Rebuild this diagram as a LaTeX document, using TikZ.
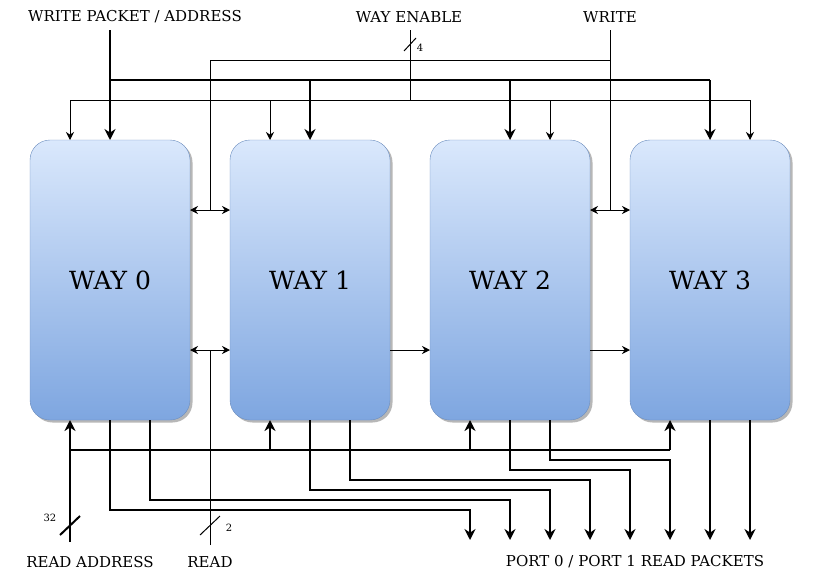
\documentclass[tikz,border=0pt]{standalone}
\usepackage{fontspec}
\setmainfont{DejaVu Serif}
\usetikzlibrary{arrows.meta,shadows,calc}
\definecolor{waytop}{HTML}{DAE8FC}
\definecolor{waybot}{HTML}{7EA6E0}
\definecolor{wayline}{HTML}{6C8EBF}
\tikzset{
  way/.style={draw=wayline, rounded corners=20pt, top color=waytop, bottom color=waybot,
    minimum width=160pt, minimum height=280pt, outer sep=0pt, inner sep=0pt,
    font=\fontsize{25}{30}\selectfont,
    drop shadow={shadow xshift=2.5pt, shadow yshift=-2.5pt, fill=black!40, opacity=0.7}},
  lbl/.style={font=\fontsize{15}{18}\selectfont, inner sep=0pt},
  tiny/.style={font=\fontsize{10}{12}\selectfont, inner sep=0pt},
  wire/.style={line width=1pt},
  bus/.style={line width=2pt},
  arr/.style={wire, -{Stealth[length=8pt,width=8pt]}},
  dbl/.style={wire, {Stealth[length=8pt,width=8pt]}-{Stealth[length=8pt,width=8pt]}},
  busarr/.style={bus, -{Stealth[length=11pt,width=11pt]}}
}
\begin{document}
\begin{tikzpicture}[x=1pt, y=-1pt]
\useasboundingbox (0,0) rectangle (821,576);

\node[way] (W0) at (110,280) {WAY 0};
\node[way] (W1) at (310,280) {WAY 1};
\node[way] (W2) at (510,280) {WAY 2};
\node[way] (W3) at (710,280) {WAY 3};

\node[lbl] (wpa) at (135,17) {WRITE PACKET / ADDRESS};
\node[lbl] (wen) at (409,17) {WAY ENABLE};
\node[lbl] (wr) at (610,17) {WRITE};
\node[lbl] (ra) at (90,562) {READ ADDRESS};
\node[lbl] (rd) at (210,562) {READ};
\node[lbl] (port) at (635,562) {PORT 0 / PORT 1 READ PACKETS};

\coordinate (hi) at (0,210);
\coordinate (lo) at (0,350);

% write packet / address
\coordinate (wpa0) at (110,30);
\coordinate (wpaL) at (110,80);
\coordinate (wpaR) at (710,80);
\draw[busarr] (wpa0) -- (W0.north);
\draw[bus] (wpaL) -- (wpaR);
\draw[busarr] (W1.north |- wpaL) -- (W1.north);
\draw[busarr] (W2.north |- wpaL) -- (W2.north);
\draw[busarr] (W3.north |- wpaL) -- (W3.north);

% way enable
\coordinate (en0) at (410,30);
\coordinate (enJ) at (410,100);
\coordinate (enL) at (70,100);
\coordinate (enR) at (750,100);
\draw[wire] (en0) -- (enJ);
\draw[wire] (enL) -- (enR);
\draw[wire] (404,51) -- (416,38);
\node[tiny] (n4) at (420,48) {4};
\draw[arr] (enL) -- (enL |- W0.north);
\draw[arr] ($(W1.north |- enL)+(-40,0)$) -- ($(W1.north)+(-40,0)$);
\draw[arr] ($(W2.north |- enL)+(40,0)$) -- ($(W2.north)+(40,0)$);
\draw[arr] (enR) -- (enR |- W3.north);

% write
\coordinate (wr0) at (610,30);
\coordinate (wrT) at (610,60);
\coordinate (wrL) at (210,60);
\draw[wire] (wr0) -- (wr0 |- hi);
\draw[wire] (wrT) -- (wrL) -- (wrL |- hi);
\draw[dbl] (W0.east |- hi) -- (W1.west |- hi);
\draw[dbl] (W2.east |- hi) -- (W3.west |- hi);

% read
\coordinate (rd0) at (210,545);
\draw[wire] (rd0) -- (rd0 |- lo);
\draw[wire] (200,535) -- (220,516);
\node[tiny] (n2) at (229,528) {2};
\draw[dbl] (W0.east |- lo) -- (W1.west |- lo);
\draw[arr] (W1.east |- lo) -- (W2.west |- lo);
\draw[arr] (W2.east |- lo) -- (W3.west |- lo);

% read address
\coordinate (ra0) at (70,542);
\coordinate (raJ) at (70,450);
\coordinate (raR) at (670,450);
\draw[busarr] (ra0) -- (ra0 |- W0.south);
\draw[bus] (raJ) -- (raR);
\draw[bus] (60,535) -- (80,516);
\node[tiny] (n32) at (50,518) {32};
\draw[busarr] ($(W1.south |- raJ)+(-40,0)$) -- ($(W1.south)+(-40,0)$);
\draw[busarr] ($(W2.south |- raJ)+(-40,0)$) -- ($(W2.south)+(-40,0)$);
\draw[busarr] (raR) -- (raR |- W3.south);

% read packets
\draw[busarr] (W0.south) |- (470,510) -- (470,540);
\draw[busarr] ($(W0.south)+(40,0)$) |- (510,500) -- (510,540);
\draw[busarr] (W1.south) |- (550,490) -- (550,540);
\draw[busarr] ($(W1.south)+(40,0)$) |- (590,480) -- (590,540);
\draw[busarr] (W2.south) |- (630,470) -- (630,540);
\draw[busarr] ($(W2.south)+(40,0)$) |- (670,460) -- (670,540);
\draw[busarr] (W3.south) -- (710,540);
\draw[busarr] ($(W3.south)+(40,0)$) -- (750,540);
\end{tikzpicture}
\end{document}
